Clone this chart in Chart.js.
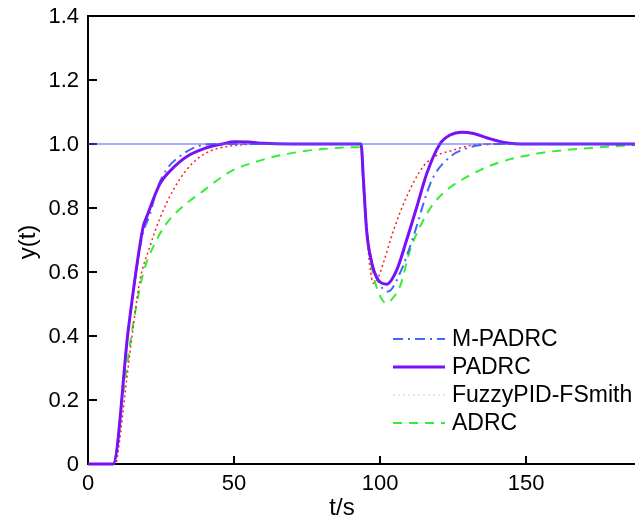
<!DOCTYPE html>
<html>
<head>
<meta charset="utf-8">
<script src="https://cdn.jsdelivr.net/npm/chart.js@4.4.1/dist/chart.umd.min.js"></script>
<style>
    body { margin: 0; background: #fff; }
    canvas { display: block; }
</style>
</head>
<body>
<canvas id="stepChart" width="635" height="522"></canvas>
<script>
// =====================
// Data
// =====================
const xTicks = [0, 50, 100, 150];
const yTicks = [0, 0.2, 0.4, 0.6, 0.8, 1.0, 1.2, 1.4];
const yTickLabels = ['0', '0.2', '0.4', '0.6', '0.8', '1.0', '1.2', '1.4'];

// legend order
const seriesNames = ['M-PADRC', 'PADRC', 'FuzzyPID-FSmith', 'ADRC'];

// setpoint
const tRef = [0, 187.3];
const yRef = [1.0, 1.0];

// M-PADRC
const tM = [0, 8.6, 13.8, 18.5, 21.2, 23.5, 26.9, 31.5, 36, 40, 45, 93.5, 94.3, 95.6, 97.5, 100, 102.8, 106.8, 111.4, 116, 118.3, 124, 129.7, 135, 140, 187.3];
const yM = [0, 0, 0.42, 0.71, 0.78, 0.856, 0.92, 0.962, 0.987, 0.998, 1.0, 1.0, 0.88, 0.72, 0.62, 0.56, 0.539, 0.596, 0.71, 0.846, 0.898, 0.96, 0.987, 0.997, 1.0, 1.0];

// PADRC
const tP = [0, 8.6, 13.8, 18.9, 20, 24.7, 28, 31.5, 35, 38.4, 42, 46, 50, 55, 60, 70, 93.5, 94.3, 95.4, 97.2, 99.4, 102.3, 105.7, 109.1, 112.6, 116, 120.5, 124, 128, 132, 137, 143, 150, 187.3];
const yP = [0, 0, 0.42, 0.742, 0.77, 0.877, 0.915, 0.945, 0.967, 0.981, 0.992, 1.0, 1.007, 1.006, 1.002, 1.0, 1.0, 0.89, 0.73, 0.627, 0.575, 0.562, 0.606, 0.70, 0.804, 0.908, 1.0, 1.028, 1.037, 1.033, 1.018, 1.004, 1.0, 1.0];

// FuzzyPID-FSmith
const tF = [0, 9.5, 10.4, 13.2, 15.5, 17.8, 21.2, 24.7, 29.2, 33.8, 38.4, 43, 50, 60, 93.5, 94.3, 95.4, 96.5, 97.7, 99, 101.1, 104.6, 109.1, 114.8, 119, 124, 132, 140, 187.3];
const yF = [0, 0, 0.044, 0.26, 0.43, 0.575, 0.68, 0.77, 0.856, 0.92, 0.96, 0.982, 0.995, 1.0, 1.0, 0.88, 0.73, 0.62, 0.565, 0.575, 0.627, 0.73, 0.835, 0.93, 0.962, 0.978, 0.997, 1.0, 1.0];

// ADRC
const tA = [0, 8.6, 12, 15.5, 18.9, 22.4, 26.9, 33.8, 38.4, 44, 49.8, 56, 63.5, 72, 80, 93.5, 94.3, 95.6, 97.5, 99.5, 102.3, 104.5, 106.8, 110.3, 113.7, 118, 122.8, 132, 140, 153.7, 170.8, 187.3];
const yA = [0, 0, 0.22, 0.44, 0.596, 0.68, 0.752, 0.815, 0.846, 0.885, 0.919, 0.94, 0.96, 0.975, 0.984, 0.99, 0.87, 0.71, 0.60, 0.535, 0.502, 0.52, 0.554, 0.669, 0.742, 0.81, 0.856, 0.908, 0.94, 0.97, 0.987, 0.997];

const toPoints = (ts, ys) => ts.map((t, i) => ({ x: t, y: ys[i] }));

const FONT = '"Liberation Sans", Arial, sans-serif';

// =====================
// Axes, ticks, labels and legend drawn on the scales
// =====================
const framePlugin = {
    id: 'frame',
    beforeDatasetsDraw(chart) {
        const { ctx, chartArea: a, scales: { x, y } } = chart;
        ctx.save();
        ctx.strokeStyle = '#000';
        ctx.lineWidth = 2;
        ctx.beginPath();
        ctx.moveTo(a.right, a.top);
        ctx.lineTo(a.left, a.top);
        ctx.lineTo(a.left, a.bottom);
        ctx.lineTo(a.right, a.bottom);
        ctx.stroke();

        // inward ticks
        ctx.beginPath();
        yTicks.forEach(v => {
            const py = Math.round(y.getPixelForValue(v));
            ctx.moveTo(a.left, py);
            ctx.lineTo(a.left + 9, py);
        });
        xTicks.forEach(v => {
            const px = Math.round(x.getPixelForValue(v));
            ctx.moveTo(px, a.bottom);
            ctx.lineTo(px, a.bottom - 8);
        });
        ctx.stroke();

        ctx.fillStyle = '#000';
        ctx.font = '22px ' + FONT;
        ctx.textAlign = 'right';
        ctx.textBaseline = 'middle';
        yTicks.forEach((v, i) => {
            ctx.fillText(yTickLabels[i], a.left - 9, y.getPixelForValue(v) + 1);
        });
        ctx.textAlign = 'center';
        xTicks.forEach(v => {
            ctx.fillText(String(v), x.getPixelForValue(v), a.bottom + 20);
        });

        // axis titles
        ctx.font = '24px ' + FONT;
        ctx.fillText('t/s', 342, 508);
        ctx.save();
        ctx.translate(28, (a.top + a.bottom) / 2 + 2);
        ctx.rotate(-Math.PI / 2);
        ctx.fillText('y(t)', 0, 0);
        ctx.restore();
        ctx.restore();
    },
    afterDraw(chart) {
        const { ctx } = chart;
        const rows = seriesNames.map(n => chart.data.datasets.find(d => d.label === n));
        ctx.save();
        ctx.font = '23px ' + FONT;
        ctx.textAlign = 'left';
        ctx.textBaseline = 'middle';
        rows.forEach((d, i) => {
            const ry = 339 + i * 28;
            ctx.strokeStyle = d.legendColor || d.borderColor;
            ctx.lineWidth = d.borderWidth;
            ctx.setLineDash(d.borderDash || []);
            ctx.beginPath();
            ctx.moveTo(393, ry);
            ctx.lineTo(445, ry);
            ctx.stroke();
            ctx.setLineDash([]);
            ctx.fillStyle = '#000';
            ctx.fillText(d.label, 452, ry + 1);
        });
        ctx.restore();
    }
};

// =====================
// Chart
// =====================
function initChart() {
    const ctx = document.getElementById('stepChart').getContext('2d');
    const common = { pointRadius: 0, fill: false, cubicInterpolationMode: 'monotone', clip: 4 };

    new Chart(ctx, {
        type: 'line',
        data: {
            datasets: [
                { ...common, label: 'ref', data: toPoints(tRef, yRef), borderColor: '#4d5cff', borderWidth: 1.2 },
                { ...common, label: seriesNames[3], data: toPoints(tA, yA), borderColor: '#33ee33', borderWidth: 2, borderDash: [9, 7], order: 4 },
                { ...common, label: seriesNames[2], data: toPoints(tF, yF), borderColor: '#ff2020', borderWidth: 1.5, borderDash: [2, 3], legendColor: 'rgba(255,150,170,0.45)', order: 3 },
                { ...common, label: seriesNames[0], data: toPoints(tM, yM), borderColor: '#4466ff', borderWidth: 2, borderDash: [10, 5, 2, 5], order: 2 },
                { ...common, label: seriesNames[1], data: toPoints(tP, yP), borderColor: '#7a10f5', borderWidth: 3, order: 1 }
            ]
        },
        options: {
            responsive: false,
            animation: false,
            layout: { padding: { left: 88, top: 16, right: 0, bottom: 58 } },
            plugins: { legend: { display: false }, tooltip: { enabled: false } },
            scales: {
                x: { type: 'linear', min: 0, max: 187.3, display: false },
                y: { type: 'linear', min: 0, max: 1.4, display: false }
            }
        },
        plugins: [framePlugin]
    });
}

window.onload = initChart;
</script>
</body>
</html>
